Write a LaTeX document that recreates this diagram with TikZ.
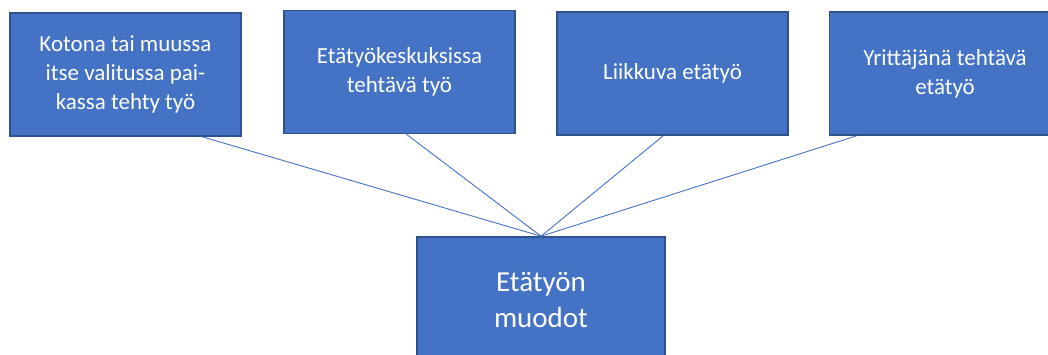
\documentclass[tikz,border=0pt]{standalone}
\usepackage{fontspec}
\setmainfont{Carlito}
\usetikzlibrary{calc}
\definecolor{boxfill}{HTML}{4472C4}
\definecolor{boxedge}{HTML}{2F528F}
\tikzset{
  topbox/.style={draw=boxedge, line width=1.6pt, fill=boxfill, text=white, align=center,
    minimum width=231pt, minimum height=123pt, inner sep=0pt,
    font=\fontsize{23}{29}\selectfont},
  basebox/.style={draw=boxedge, line width=1.6pt, fill=boxfill, text=white, align=center,
    minimum width=248pt, minimum height=126pt, inner sep=0pt,
    font=\fontsize{29}{36}\selectfont},
  link/.style={draw=boxfill, line width=0.9pt}
}
\begin{document}
\begin{tikzpicture}[x=1pt,y=1pt]
\useasboundingbox (0,0) rectangle (1048,355);
\clip (0,0) rectangle (1048,355);
\node[topbox] (b1) at (125.5,{355-74.5}) {Kotona tai muussa\\itse valitussa pai-\\kassa tehty työ};
\node[topbox] (b2) at (399.5,{355-72}) {Etätyökeskuksissa\\tehtävä työ};
\node[topbox] (b3) at (672.5,{355-73.5}) {Liikkuva etätyö};
\node[topbox] (b4) at (945,{355-73.5}) {Yrittäjänä tehtävä\\etätyö};
\node[basebox] (b0) at (541,{355-300}) {Etätyön\\muodot};
\draw[link] ($(b1.south west)!0.83!(b1.south east)$) -- (b0.north);
\draw[link] ($(b2.south west)!0.53!(b2.south east)$) -- (b0.north);
\draw[link] ($(b3.south west)!0.46!(b3.south east)$) -- (b0.north);
\draw[link] ($(b4.south west)!0.12!(b4.south east)$) -- (b0.north);
\end{tikzpicture}
\end{document}
